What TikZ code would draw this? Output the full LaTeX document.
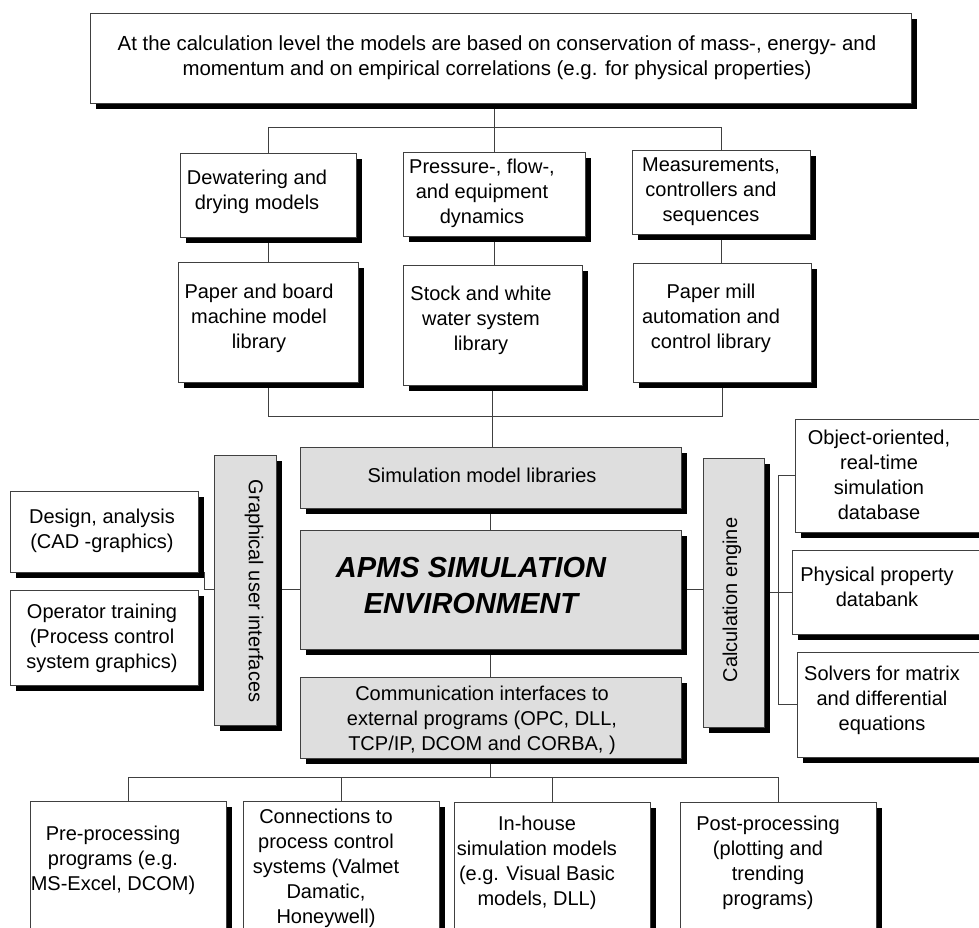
\documentclass[tikz,border=0pt]{standalone}
\usepackage{fontspec}
\setmainfont{Liberation Sans}
\usetikzlibrary{shadows,fit}
\pgfdeclarelayer{wires}
\pgfsetlayers{wires,main}
\begin{document}
\begin{tikzpicture}[x=1pt,y=-1pt,
  frame/.style={draw=black!75, line width=0.9pt, fill=white, inner sep=0pt,
     drop shadow={shadow xshift=6pt, shadow yshift=-6pt, fill=black, opacity=1}},
  grayframe/.style={frame, fill=black!13},
  lbl/.style={align=center, font=\fontsize{20}{25}\selectfont, inner sep=0pt},
  wire/.style={draw=black!75, line width=0.9pt}]
\path[use as bounding box, clip] (0,0) rectangle (979,927);

% conservation-law box
\node[frame, fit={(90,13)(911,103)}] (top) {};
\node[lbl, font=\fontsize{20.4}{25}\selectfont] (topT) at (497,58) {At the calculation level the models are based on conservation of mass-, energy- and\\momentum and on empirical correlations (e.g. for physical properties)};

% model groups
\node[frame, fit={(180,153)(356,237)}] (dew) {};
\node[lbl] (dewT) at (257,192) {Dewatering and\\drying models};
\node[frame, fit={(403,152)(585,236)}] (pres) {};
\node[lbl] (presT) at (482,193) {Pressure-, flow-,\\and equipment\\dynamics};
\node[frame, fit={(632,150)(810,234)}] (meas) {};
\node[lbl] (measT) at (711,192) {Measurements,\\controllers and\\sequences};

% libraries
\node[frame, fit={(178,262)(358,382)}] (pab) {};
\node[lbl] (pabT) at (259,318) {Paper and board\\machine model\\library};
\node[frame, fit={(403,265)(582,385)}] (stock) {};
\node[lbl] (stockT) at (481,320) {Stock and white\\water system\\library};
\node[frame, fit={(633,263)(811,382)}] (mill) {};
\node[lbl] (millT) at (711,318) {Paper mill\\automation and\\control library};

% simulation environment core
\node[grayframe, fit={(300,447)(681,508)}] (simlib) {};
\node[lbl] (simlibT) at (482,475) {Simulation model libraries};
\node[grayframe, fit={(300,530)(681,649)}] (main) {};
\node[lbl, font=\fontsize{29}{36}\selectfont\bfseries\itshape] (mainT) at (471,586) {APMS SIMULATION\\ENVIRONMENT};
\node[grayframe, fit={(300,677)(681,758)}] (comm) {};
\node[lbl] (commT) at (482,720) {Communication interfaces to\\external programs (OPC, DLL,\\TCP/IP, DCOM and CORBA, )};

% side bars
\node[grayframe, fit={(214,455)(276,725)}] (gui) {};
\node[lbl, rotate=-90] (guiT) at (254,591) {Graphical user interfaces};
\node[grayframe, fit={(703,458)(764,727)}] (calc) {};
\node[lbl, rotate=90] (calcT) at (732,600) {Calculation engine};

% user interface applications
\node[frame, fit={(10,491)(198,572)}] (design) {};
\node[lbl] (designT) at (102,531) {Design, analysis\\(CAD -graphics)};
\node[frame, fit={(10,590)(198,685)}] (oper) {};
\node[lbl] (operT) at (102,638) {Operator training\\(Process control\\system graphics)};

% calculation engine parts
\node[frame, fit={(795,419)(990,532)}] (obj) {};
\node[lbl] (objT) at (879,475) {Object-oriented,\\real-time\\simulation\\database};
\node[frame, fit={(792,550)(990,634)}] (phys) {};
\node[lbl] (physT) at (877,587) {Physical property\\databank};
\node[frame, fit={(797,652)(990,757)}] (solv) {};
\node[lbl] (solvT) at (882,700) {Solvers for matrix\\and differential\\equations};

% external programs
\node[frame, fit={(30,801)(226,960)}] (pre) {};
\node[lbl] (preT) at (113,860) {Pre-processing\\programs (e.g.\\MS-Excel, DCOM)};
\node[frame, fit={(243,801)(439,960)}] (conn) {};
\node[lbl] (connT) at (326,868) {Connections to\\process control\\systems (Valmet\\Damatic,\\Honeywell)};
\node[frame, fit={(454,802)(650,960)}] (inhouse) {};
\node[lbl] (inhouseT) at (537,863) {In-house\\simulation models\\(e.g. Visual Basic\\models, DLL)};
\node[frame, fit={(680,802)(876,960)}] (post) {};
\node[lbl] (postT) at (768,863) {Post-processing\\(plotting and\\trending\\programs)};

\coordinate (busT) at (493,127);
\coordinate (busM) at (0,416);
\coordinate (busB) at (0,777);
\coordinate (bx) at (778,0);

\begin{pgfonlayer}{wires}
  \draw[wire] (top.south -| pres.north) -- (pres.north);
  \draw[wire] (dew.north) |- (meas.north |- busT) -- (meas.north);
  \draw[wire] (dew.south) -- (pab.north);
  \draw[wire] (pres.south) -- (pres.south |- stock.north);
  \draw[wire] (meas.south) -- (meas.south |- mill.north);
  \draw[wire] (pab.south) |- (mill.south |- busM) -- (mill.south);
  \draw[wire] (stock.south) -- (stock.south |- simlib.north);
  \draw[wire] (simlib.south) -- (main.north);
  \draw[wire] (main.south) -- (comm.north);
  \draw[wire] (comm.south) -- (comm.south |- busB);
  \draw[wire] (pre.north) |- (post.north |- busB) -- (post.north);
  \draw[wire] (conn.north) -- (conn.north |- busB);
  \draw[wire] (inhouse.north) -- (inhouse.north |- busB);
  \draw[wire] (gui.east |- main.west) -- (main.west);
  \draw[wire] (gui.west |- main.west) -- ++(-10,0);
  \draw[wire] ([xshift=6pt]design.south east) -- ([xshift=6pt]oper.north east);
  \draw[wire] (main.east) -- (main.east -| calc.west);
  \draw[wire] (calc.east) -- (calc.east -| bx);
  \draw[wire] (obj.west) -| (bx |- solv.west) -- (solv.west);
  \draw[wire] (phys.west) -- (phys.west -| bx);
\end{pgfonlayer}
\end{tikzpicture}
\end{document}
